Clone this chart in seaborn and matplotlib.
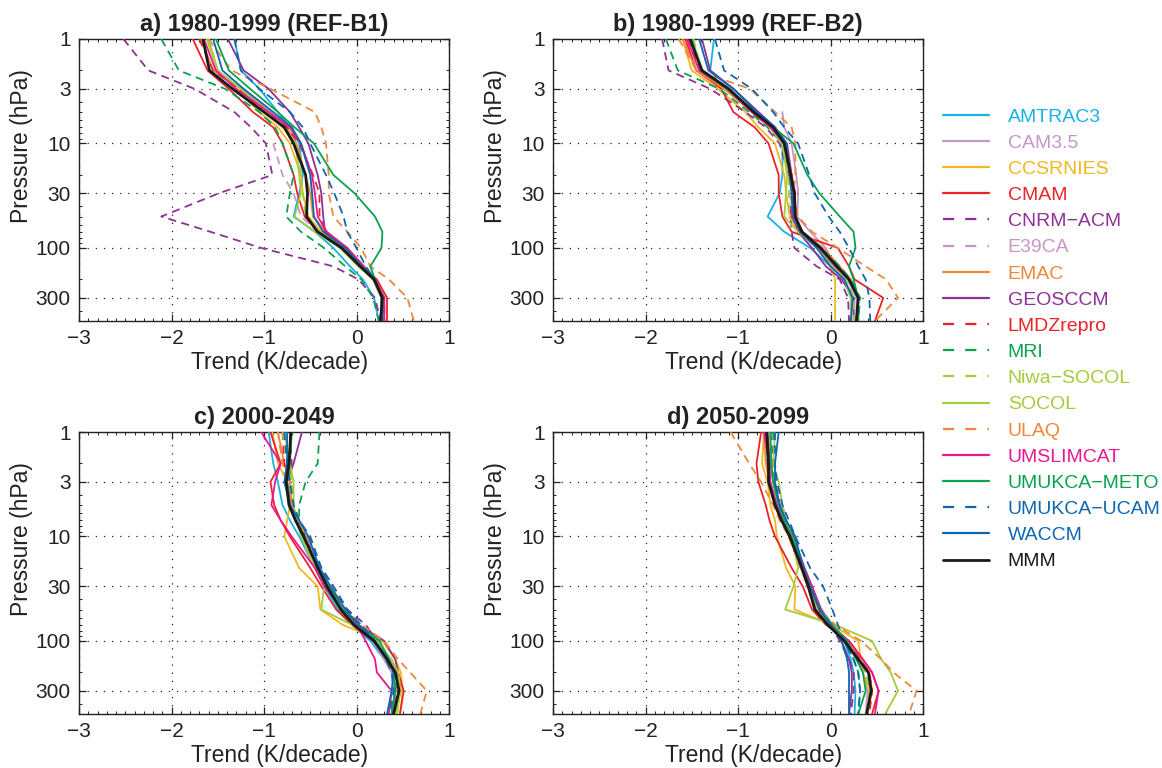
import numpy as np
import pandas as pd
import matplotlib
matplotlib.use("Agg")
import matplotlib.pyplot as plt
from matplotlib.lines import Line2D
from matplotlib.ticker import FixedLocator, MultipleLocator, NullFormatter
import seaborn as sns

nan = np.nan

LEVELS = [1, 2, 3, 5, 7, 10, 20, 30, 50, 70, 100, 150, 200, 300, 500]
MODELS = ["AMTRAC3", "CAM3.5", "CCSRNIES", "CMAM", "CNRM\u2212ACM", "E39CA", "EMAC",
          "GEOSCCM", "LMDZrepro", "MRI", "Niwa\u2212SOCOL", "SOCOL", "ULAQ", "UMSLIMCAT",
          "UMUKCA\u2212METO", "UMUKCA\u2212UCAM", "WACCM", "MMM"]
COLORS = ["#17b2e6", "#c597c8", "#f2b81f", "#ec2227", "#8e3195", "#c597c8", "#f0873a",
          "#8e3195", "#ec2227", "#0aa24e", "#a5cc3a", "#a5cc3a", "#f0873a", "#eb1790",
          "#0aa24e", "#0f67b1", "#0f67b1", "#1a1a1a"]
DASHED = [False, False, False, False, True, True, False, False, True, True, True, False,
          True, False, False, True, False, False]
TITLES = ["a) 1980-1999 (REF-B1)", "b) 1980-1999 (REF-B2)", "c) 2000-2049", "d) 2050-2099"]
X_TICKS = [-3, -2, -1, 0, 1]
Y_TICKS = [1, 3, 10, 30, 100, 300]
Y_TICK_LABELS = ["1", "3", "10", "30", "100", "300"]

# ---- panel a: 1980-1999 (REF-B1) ----
A_AMTRAC3 = [-1.32, -1.25, -1.05, -0.85, -0.72, -0.62, -0.58, -0.62, -0.68, -0.45, -0.25, -0.07, 0.07, 0.19, 0.24]
A_CAM35 = [nan, nan, -1.25, -0.92, -0.70, -0.60, -0.50, -0.48, -0.47, -0.35, -0.12, 0.06, 0.20, 0.30, 0.30]
A_CCSRNIES = [-1.60, -1.50, -1.30, -1.05, -0.85, -0.72, -0.60, -0.58, -0.52, -0.38, -0.15, 0.05, 0.20, 0.28, 0.25]
A_CMAM = [-1.77, -1.61, -1.38, -1.12, -0.90, -0.80, -0.68, -0.64, -0.56, -0.42, -0.15, 0.06, 0.22, 0.33, 0.33]
A_CNRM = [-2.52, -2.25, -1.75, -1.32, -1.14, -0.98, -0.91, -1.49, -2.11, -1.58, -1.03, -0.25, 0.02, 0.20, 0.26]
A_E39CA = [nan, nan, nan, nan, nan, -0.90, -0.80, -0.68, -0.60, -0.42, -0.15, 0.05, 0.20, 0.30, 0.30]
A_EMAC = [-1.68, -1.55, -1.25, -0.95, -0.75, -0.65, -0.55, -0.50, -0.47, -0.33, -0.10, 0.08, 0.20, 0.28, 0.28]
A_GEOSCCM = [-1.39, -1.22, -0.95, -0.72, -0.62, -0.52, -0.42, -0.38, -0.36, -0.34, -0.10, 0.05, 0.18, 0.27, 0.27]
A_LMDZ = [-1.70, -1.55, -1.28, -0.98, -0.75, -0.62, -0.47, -0.40, -0.40, -0.33, -0.12, 0.05, 0.20, 0.30, 0.30]
A_MRI = [-2.11, -1.92, -1.42, -1.05, -0.88, -0.80, -0.68, -0.72, -0.76, -0.60, -0.35, -0.12, 0.05, 0.18, 0.24]
A_NIWA = [-1.60, -1.50, -1.25, -0.97, -0.78, -0.66, -0.60, -0.58, -0.55, -0.40, -0.16, 0.03, 0.18, 0.27, 0.26]
A_SOCOL = [-1.62, -1.50, -1.25, -0.98, -0.80, -0.66, -0.62, -0.60, -0.67, -0.45, -0.18, 0.02, 0.18, 0.27, 0.27]
A_ULAQ = [-1.60, -1.35, -0.93, -0.45, -0.38, -0.33, -0.30, -0.30, -0.25, -0.10, 0.05, 0.15, 0.35, 0.55, 0.62]
A_UMSLIMCAT = [-1.65, -1.52, -1.30, -0.95, -0.72, -0.60, -0.48, -0.45, -0.42, -0.32, -0.10, 0.08, 0.20, 0.30, 0.30]
A_METO = [-1.52, -1.38, -1.15, -0.85, -0.67, -0.46, -0.25, -0.02, 0.20, 0.28, 0.27, 0.15, 0.20, 0.27, 0.26]
A_UCAM = [-1.32, -1.25, -1.05, -0.72, -0.58, -0.50, -0.33, -0.24, -0.14, -0.10, 0.00, 0.10, 0.20, 0.28, 0.28]
A_WACCM = [-1.55, -1.45, -1.22, -0.90, -0.70, -0.60, -0.50, -0.48, -0.46, -0.36, -0.12, 0.06, 0.20, 0.28, 0.28]
A_MMM = [-1.66, -1.59, -1.34, -1.00, -0.78, -0.68, -0.55, -0.53, -0.54, -0.42, -0.16, 0.04, 0.19, 0.28, 0.26]

# ---- panel b: 1980-1999 (REF-B2) ----
B_AMTRAC3 = [-1.26, -1.30, -1.05, -0.78, -0.60, -0.52, -0.52, -0.55, -0.68, -0.50, -0.22, 0.00, 0.15, 0.22, 0.22]
B_CAM35 = [nan, nan, nan, -0.52, -0.50, -0.42, -0.37, -0.35, -0.36, -0.22, -0.05, 0.05, 0.18, 0.28, 0.28]
B_CCSRNIES = [-1.60, -1.50, -1.22, -0.92, -0.78, -0.60, -0.50, -0.48, -0.44, -0.35, -0.12, 0.00, 0.05, 0.05, 0.05]
B_CMAM = [-1.57, -1.45, -1.18, -1.05, -0.82, -0.67, -0.56, -0.56, -0.52, -0.42, 0.08, 0.20, 0.26, 0.57, 0.48]
B_CNRM = [-1.82, -1.75, -1.30, -0.92, -0.70, -0.55, -0.45, -0.42, -0.43, -0.42, -0.39, -0.15, 0.10, 0.19, 0.20]
B_E39CA = [nan, nan, nan, nan, nan, -0.50, -0.42, -0.40, -0.38, -0.30, -0.10, 0.08, 0.22, 0.30, 0.30]
B_EMAC = [-1.60, -1.45, -1.15, -0.85, -0.65, -0.50, -0.42, -0.38, -0.40, -0.30, -0.08, 0.10, 0.22, 0.30, 0.28]
B_GEOSCCM = [-1.39, -1.30, -1.05, -0.78, -0.60, -0.47, -0.42, -0.40, -0.40, -0.35, -0.20, -0.05, 0.12, 0.25, 0.25]
B_LMDZ = [-1.55, -1.40, -1.12, -0.85, -0.65, -0.50, -0.45, -0.38, -0.40, -0.30, -0.10, 0.08, 0.20, 0.30, 0.30]
B_MRI = [-1.78, -1.65, -1.20, -0.88, -0.68, -0.52, -0.44, -0.42, -0.42, -0.30, -0.10, 0.10, 0.22, 0.32, 0.30]
B_NIWA = [-1.48, -1.40, -1.12, -0.85, -0.65, -0.52, -0.45, -0.45, -0.45, -0.33, -0.12, 0.05, 0.18, 0.25, 0.25]
B_SOCOL = [-1.50, -1.38, -1.10, -0.85, -0.66, -0.52, -0.47, -0.48, -0.50, -0.35, -0.14, 0.03, 0.15, 0.22, 0.22]
B_ULAQ = [-1.64, -1.45, -0.87, -0.60, -0.42, -0.38, -0.38, -0.40, -0.35, -0.20, 0.08, 0.38, 0.60, 0.73, 0.48]
B_UMSLIMCAT = [-1.55, -1.42, -1.12, -0.85, -0.65, -0.50, -0.42, -0.40, -0.42, -0.33, -0.12, 0.05, 0.20, 0.30, 0.28]
B_METO = [-1.50, -1.40, -1.12, -0.82, -0.62, -0.40, -0.25, -0.12, 0.10, 0.25, 0.27, 0.20, 0.25, 0.30, 0.30]
B_UCAM = [-1.25, -1.15, -0.85, -0.62, -0.50, -0.35, -0.23, -0.17, -0.02, 0.10, 0.20, 0.30, 0.38, 0.42, 0.43]
B_WACCM = [-1.42, -1.32, -1.05, -0.80, -0.60, -0.48, -0.44, -0.42, -0.40, -0.33, -0.15, 0.00, 0.15, 0.24, 0.22]
B_MMM = [-1.52, -1.39, -1.10, -0.83, -0.62, -0.50, -0.43, -0.39, -0.38, -0.31, -0.11, 0.07, 0.20, 0.30, 0.28]

# ---- panel c: 2000-2049 ----
C_AMTRAC3 = [-0.95, -0.90, -0.85, -0.80, -0.72, -0.62, -0.45, -0.35, -0.20, -0.05, 0.15, 0.30, 0.38, 0.42, 0.38]
C_CAM35 = [nan, nan, -0.75, -0.70, -0.62, -0.55, -0.40, -0.30, -0.15, 0.00, 0.18, 0.30, 0.38, 0.42, 0.40]
C_CCSRNIES = [-0.91, -0.85, -0.75, -0.72, -0.75, -0.78, -0.62, -0.42, -0.39, -0.15, 0.28, 0.42, 0.48, 0.50, 0.47]
C_CMAM = [-0.93, -0.82, -0.93, -0.89, -0.82, -0.72, -0.50, -0.38, -0.22, -0.05, 0.18, 0.35, 0.45, 0.51, 0.47]
C_CNRM = [-0.72, -0.70, -0.72, -0.70, -0.62, -0.52, -0.38, -0.25, -0.10, 0.10, 0.22, 0.35, 0.42, 0.45, 0.40]
C_E39CA = [nan, nan, nan, nan, nan, -0.55, -0.40, -0.30, -0.15, 0.00, 0.20, 0.30, 0.38, 0.42, 0.40]
C_EMAC = [-0.85, -0.78, -0.72, -0.70, -0.65, -0.55, -0.40, -0.30, -0.15, 0.00, 0.20, 0.35, 0.45, 0.48, 0.42]
C_GEOSCCM = [-0.59, -0.68, -0.75, -0.72, -0.65, -0.55, -0.42, -0.30, -0.15, 0.02, 0.30, 0.42, 0.45, 0.42, 0.38]
C_LMDZ = [-0.80, -0.78, -0.75, -0.72, -0.66, -0.58, -0.42, -0.30, -0.16, 0.00, 0.20, 0.35, 0.42, 0.45, 0.40]
C_MRI = [-0.40, -0.42, -0.55, -0.62, -0.62, -0.55, -0.40, -0.30, -0.12, 0.02, 0.22, 0.32, 0.40, 0.42, 0.38]
C_NIWA = [-0.80, -0.75, -0.70, -0.68, -0.62, -0.55, -0.42, -0.32, -0.18, -0.02, 0.20, 0.35, 0.42, 0.45, 0.42]
C_SOCOL = [-0.78, -0.72, -0.68, -0.68, -0.65, -0.60, -0.45, -0.35, -0.38, -0.05, 0.22, 0.38, 0.45, 0.47, 0.44]
C_ULAQ = [-0.85, -0.80, -0.75, -0.72, -0.65, -0.55, -0.40, -0.28, -0.12, 0.05, 0.30, 0.45, 0.58, 0.76, 0.69]
C_UMSLIMCAT = [-1.03, -0.82, -0.88, -0.92, -0.82, -0.70, -0.45, -0.35, -0.15, 0.00, 0.10, 0.20, 0.22, 0.38, 0.35]
C_METO = [-0.70, -0.72, -0.75, -0.72, -0.66, -0.58, -0.40, -0.30, -0.15, 0.02, 0.25, 0.35, 0.40, 0.42, 0.38]
C_UCAM = [-0.78, -0.75, -0.72, -0.68, -0.62, -0.50, -0.38, -0.25, -0.10, 0.05, 0.20, 0.32, 0.38, 0.40, 0.36]
C_WACCM = [-0.75, -0.75, -0.78, -0.72, -0.62, -0.52, -0.40, -0.28, -0.12, 0.02, 0.20, 0.35, 0.40, 0.38, 0.33]
C_MMM = [-0.71, -0.73, -0.76, -0.73, -0.66, -0.57, -0.42, -0.32, -0.17, -0.03, 0.19, 0.33, 0.42, 0.46, 0.40]

# ---- panel d: 2050-2099 ----
D_AMTRAC3 = [-0.70, -0.68, -0.66, -0.58, -0.50, -0.42, -0.30, -0.22, -0.15, 0.00, 0.15, 0.22, 0.25, 0.27, 0.26]
D_CAM35 = [nan, nan, nan, -0.52, -0.48, -0.42, -0.30, -0.20, -0.12, 0.00, 0.15, 0.28, 0.35, 0.40, 0.38]
D_CCSRNIES = [-0.72, -0.74, -0.68, -0.65, -0.60, -0.58, -0.48, -0.38, -0.39, 0.01, 0.30, 0.33, 0.35, 0.42, 0.40]
D_CMAM = [-0.75, -0.80, -0.78, -0.70, -0.66, -0.60, -0.42, -0.30, -0.20, -0.05, 0.20, 0.35, 0.45, 0.52, 0.45]
D_CNRM = [-0.65, -0.62, -0.60, -0.55, -0.50, -0.42, -0.30, -0.22, -0.12, 0.00, 0.10, 0.20, 0.25, 0.25, 0.22]
D_E39CA = [nan, nan, nan, nan, nan, -0.45, -0.32, -0.25, -0.15, 0.00, 0.15, 0.30, 0.38, 0.42, 0.40]
D_EMAC = [-0.72, -0.70, -0.66, -0.60, -0.52, -0.45, -0.32, -0.25, -0.15, -0.02, 0.18, 0.32, 0.42, 0.45, 0.40]
D_GEOSCCM = [-0.68, -0.65, -0.62, -0.55, -0.48, -0.40, -0.28, -0.20, -0.10, 0.02, 0.12, 0.20, 0.23, 0.23, 0.20]
D_LMDZ = [-0.70, -0.68, -0.66, -0.60, -0.52, -0.45, -0.32, -0.24, -0.15, -0.02, 0.18, 0.32, 0.42, 0.45, 0.42]
D_MRI = [-0.62, -0.62, -0.60, -0.55, -0.48, -0.40, -0.30, -0.22, -0.12, 0.00, 0.15, 0.25, 0.30, 0.32, 0.30]
D_NIWA = [-0.66, -0.64, -0.62, -0.57, -0.50, -0.42, -0.30, -0.22, -0.14, 0.00, 0.18, 0.30, 0.38, 0.42, 0.40]
D_SOCOL = [-0.60, -0.62, -0.56, -0.52, -0.48, -0.42, -0.35, -0.40, -0.49, 0.05, 0.45, 0.55, 0.65, 0.73, 0.59]
D_ULAQ = [-1.08, -0.88, -0.75, -0.62, -0.55, -0.45, -0.32, -0.22, -0.12, 0.05, 0.33, 0.55, 0.68, 0.93, 0.85]
D_UMSLIMCAT = [-0.72, -0.66, -0.65, -0.58, -0.52, -0.44, -0.30, -0.20, -0.12, 0.00, 0.20, 0.35, 0.45, 0.52, 0.48]
D_METO = [-0.65, -0.64, -0.62, -0.56, -0.50, -0.42, -0.30, -0.22, -0.12, 0.02, 0.18, 0.28, 0.35, 0.38, 0.30]
D_UCAM = [-0.60, -0.60, -0.58, -0.52, -0.45, -0.38, -0.22, -0.08, 0.02, 0.08, 0.15, 0.25, 0.30, 0.32, 0.30]
D_WACCM = [-0.56, -0.60, -0.60, -0.55, -0.48, -0.38, -0.30, -0.22, -0.12, 0.00, 0.12, 0.18, 0.20, 0.20, 0.20]
D_MMM = [-0.69, -0.67, -0.67, -0.60, -0.53, -0.44, -0.31, -0.24, -0.17, -0.03, 0.15, 0.30, 0.41, 0.44, 0.39]

PANELS = [
    [A_AMTRAC3, A_CAM35, A_CCSRNIES, A_CMAM, A_CNRM, A_E39CA, A_EMAC, A_GEOSCCM, A_LMDZ,
     A_MRI, A_NIWA, A_SOCOL, A_ULAQ, A_UMSLIMCAT, A_METO, A_UCAM, A_WACCM, A_MMM],
    [B_AMTRAC3, B_CAM35, B_CCSRNIES, B_CMAM, B_CNRM, B_E39CA, B_EMAC, B_GEOSCCM, B_LMDZ,
     B_MRI, B_NIWA, B_SOCOL, B_ULAQ, B_UMSLIMCAT, B_METO, B_UCAM, B_WACCM, B_MMM],
    [C_AMTRAC3, C_CAM35, C_CCSRNIES, C_CMAM, C_CNRM, C_E39CA, C_EMAC, C_GEOSCCM, C_LMDZ,
     C_MRI, C_NIWA, C_SOCOL, C_ULAQ, C_UMSLIMCAT, C_METO, C_UCAM, C_WACCM, C_MMM],
    [D_AMTRAC3, D_CAM35, D_CCSRNIES, D_CMAM, D_CNRM, D_E39CA, D_EMAC, D_GEOSCCM, D_LMDZ,
     D_MRI, D_NIWA, D_SOCOL, D_ULAQ, D_UMSLIMCAT, D_METO, D_UCAM, D_WACCM, D_MMM],
]

sns.set_style("ticks")
plt.rcParams["font.family"] = ["Liberation Sans", "DejaVu Sans"]
plt.rcParams["axes.unicode_minus"] = True

W, H = 1162, 768
fig = plt.figure(figsize=(W / 100, H / 100), dpi=100)
fig.patch.set_facecolor("white")

boxes = [(79, 39, 449, 321), (553, 39, 923, 321), (79, 432, 449, 714), (553, 432, 923, 714)]
DASH = (0, (4.5, 3))
LEG_DASH = (0, (6, 6))
GRID_DOT = (0, (1, 5.5))
INK = "#222222"

for pi, (x0, y0, x1, y1) in enumerate(boxes):
    ax = fig.add_axes([x0 / W, 1 - y1 / H, (x1 - x0) / W, (y1 - y0) / H])
    ax.set_facecolor("white")
    rows = []
    for mi, vals in enumerate(PANELS[pi]):
        for lev, v in zip(LEVELS, vals):
            if not np.isnan(v):
                rows.append((MODELS[mi], lev, v))
    df = pd.DataFrame(rows, columns=["model", "level", "trend"])
    for mi, name in enumerate(MODELS):
        sub = df[df["model"] == name]
        is_mmm = name == "MMM"
        sns.lineplot(data=sub, x="trend", y="level", sort=False, estimator=None, ax=ax,
                     color=COLORS[mi], linewidth=2.0 if is_mmm else 1.3,
                     linestyle=DASH if DASHED[mi] else "-", zorder=5 if is_mmm else 3,
                     legend=False)
    ax.set_yscale("log")
    ax.set_ylim(500, 1)
    ax.set_xlim(-3, 1)
    ax.yaxis.set_major_locator(FixedLocator(Y_TICKS))
    ax.set_yticklabels(Y_TICK_LABELS)
    ax.yaxis.set_minor_locator(FixedLocator([2, 4, 5, 6, 7, 8, 9, 20, 40, 50, 60, 70, 80, 90,
                                             200, 400, 500]))
    ax.yaxis.set_minor_formatter(NullFormatter())
    ax.xaxis.set_major_locator(FixedLocator(X_TICKS))
    ax.set_xticklabels([("\u2212" + str(abs(t))) if t < 0 else str(t) for t in X_TICKS])
    ax.xaxis.set_minor_locator(MultipleLocator(0.1))
    ax.grid(True, which="major", linestyle=GRID_DOT, color=INK, linewidth=0.9)
    ax.tick_params(which="both", direction="in", top=True, right=True, colors=INK,
                   labelsize=15, labelcolor=INK)
    ax.tick_params(which="major", length=5, width=0.9, pad=6)
    ax.tick_params(which="minor", length=2.5, width=0.7)
    for s in ax.spines.values():
        s.set_linewidth(1.0)
        s.set_color(INK)
    ax.set_xlabel("Trend (K/decade)", fontsize=16.5, color=INK)
    ax.xaxis.set_label_coords(0.543, -0.105)
    ax.set_ylabel("Pressure (hPa)", fontsize=16.5, color=INK)
    ax.yaxis.set_label_coords(-0.125, 0.62)
    ax.set_title(TITLES[pi], fontsize=17, fontweight="bold", color=INK, pad=6)

handles = [Line2D([0], [0], color=c, linewidth=2.0 if m == "MMM" else 1.6,
                  linestyle=(0, (5, 5)) if d else "-") for m, c, d in zip(MODELS, COLORS, DASHED)]
leg = fig.legend(handles, MODELS, loc="upper left", bbox_to_anchor=(943 / W, 1 - 108 / H),
                 frameon=False, fontsize=14, handlelength=2.35, handletextpad=0.98,
                 labelspacing=0.44, borderaxespad=0, borderpad=0, labelcolor="linecolor")

fig.savefig("out.png", dpi=100, facecolor="white")
